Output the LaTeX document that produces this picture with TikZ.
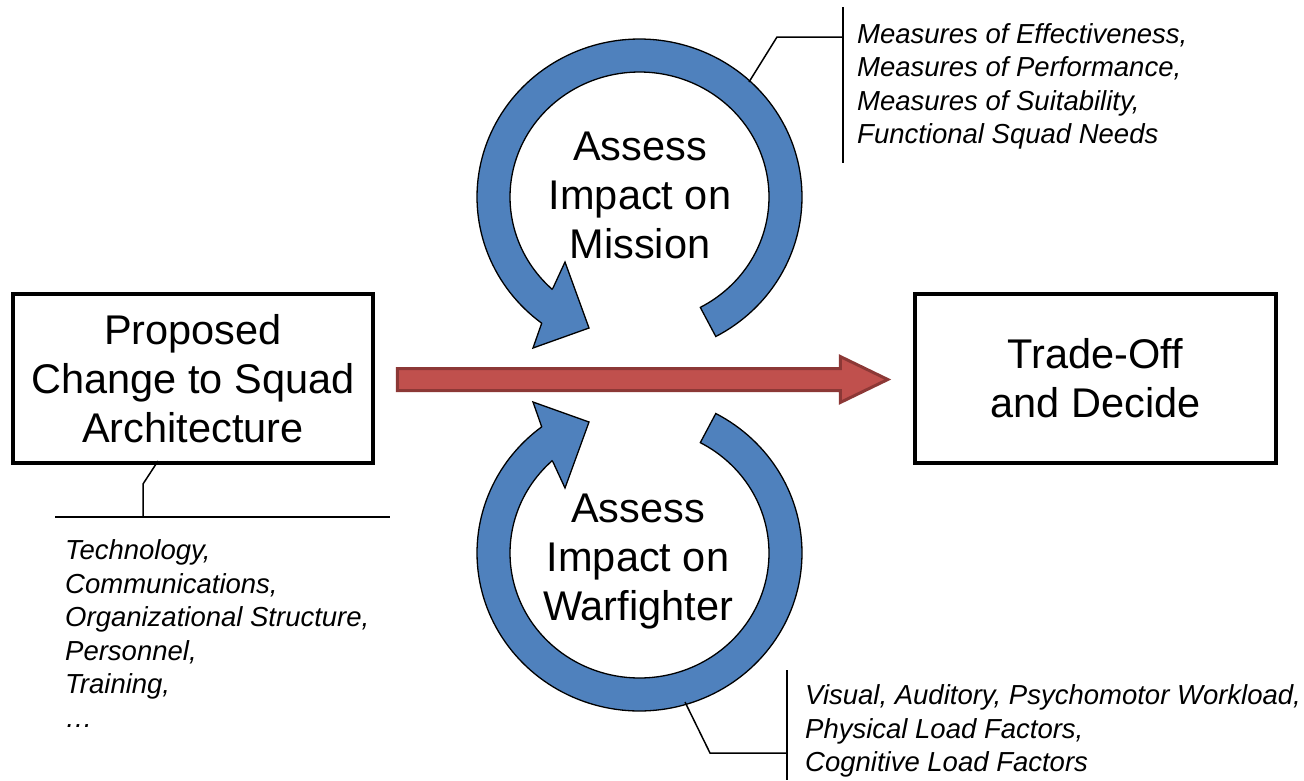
\documentclass[tikz,border=0pt]{standalone}
\usepackage{fontspec}
\setmainfont{Liberation Sans}
\usetikzlibrary{calc}
\definecolor{ringblue}{HTML}{4F81BD}
\definecolor{arrowred}{HTML}{C0504D}
\definecolor{arrowedge}{HTML}{8C3836}
\newcommand\bigtxt{\fontsize{41.5}{49}\selectfont}
\newcommand\notetxt{\fontsize{27.5}{33.5}\selectfont\itshape}
\begin{document}
\begin{tikzpicture}[x=1pt,y=-1pt,
  ring/.style={fill=ringblue, draw=black, line width=1.3pt, line join=miter},
  bigarrow/.style={fill=arrowred, draw=arrowedge, line width=3pt, line join=miter},
  mainbox/.style={draw=black, line width=3.5pt, minimum width=360pt,
    minimum height=169pt, align=center, font=\bigtxt, inner sep=0pt},
  ringtext/.style={align=center, font=\bigtxt, inner sep=0pt},
  note/.style={align=left, font=\notetxt, inner sep=0pt, anchor=north west},
  leader/.style={draw=black, line width=1.5pt}]
\useasboundingbox (0,0) rectangle (1304,780);

% upper circular arrow (mission loop)
\path[ring] plot[domain=62:-233, samples=150] ({639.5+162.5*cos(\x)},{197+158*sin(\x)})
  -- (533,348) -- (589,328) -- (565,262) -- (553,288)
  -- plot[domain=-227.5:62, samples=150] ({639.5+129.5*cos(\x)},{197+125*sin(\x)})
  -- cycle;

% lower circular arrow (warfighter loop)
\path[ring] plot[domain=-62:233, samples=150] ({639.5+162.5*cos(\x)},{553+158*sin(\x)})
  -- (533,402) -- (589,422) -- (565,488) -- (553,462)
  -- plot[domain=227.5:-62, samples=150] ({639.5+129.5*cos(\x)},{553+125*sin(\x)})
  -- cycle;

% main boxes
\node[mainbox] (prop) at (193,378.5) {Proposed\\Change to Squad\\Architecture};
\node[mainbox, minimum width=361pt] (trade) at (1095.5,378.5) {Trade-Off\\and Decide};

% central red block arrow from the proposal towards the decision
\coordinate (redtail) at ($(prop.east)+(22.5,1)$);
\coordinate (redtip) at ($(trade.west)+(-25.5,1)$);
\path[bigarrow] ($(redtail)+(0,-11)$) -- ($(redtip)+(-47.5,-11)$)
  -- ($(redtip)+(-47.5,-23)$) -- (redtip) -- ($(redtip)+(-47.5,23)$)
  -- ($(redtip)+(-47.5,11)$) -- ($(redtail)+(0,11)$) -- cycle;

% loop labels
\node[ringtext] (mission) at (640,195) {Assess\\Impact on\\Mission};
\node[ringtext] (warf) at (638,562) {Assess\\Impact on\\Warfighter};

% callout: measures
\coordinate (mtouch) at (749,82);
\coordinate (mknee) at (777,37);
\coordinate (mjoin) at (843,37);
\coordinate (mtop) at (843,7);
\coordinate (mbot) at (843,163);
\draw[leader] (mtop) -- (mbot);
\draw[leader] (mtouch) -- (mknee) -- (mjoin);
\node[note] (mnote) at (857,23) {Measures of Effectiveness,\\Measures of Performance,\\Measures of Suitability,\\Functional Squad Needs};

% callout: workload factors
\coordinate (wtouch) at (685,702);
\coordinate (wknee) at (710,753);
\coordinate (wjoin) at (787,753);
\coordinate (wtop) at (787,670);
\coordinate (wbot) at (787,780);
\draw[leader] (wtop) -- (wbot);
\draw[leader] (wtouch) -- (wknee) -- (wjoin);
\node[note] (wnote) at (805,684.5) {Visual, Auditory, Psychomotor Workload,\\Physical Load Factors,\\Cognitive Load Factors};

% callout: architecture elements
\coordinate (ptouch) at (158,461);
\coordinate (pknee) at (143,484);
\coordinate (pfoot) at (143,517);
\coordinate (pleft) at (55,517);
\coordinate (pright) at (390,517);
\draw[leader] (ptouch) -- (pknee) -- (pfoot);
\draw[leader] (pleft) -- (pright);
\node[note] (pnote) at (65,539.5) {Technology,\\Communications,\\Organizational Structure,\\Personnel,\\Training,\\…};
\end{tikzpicture}
\end{document}
